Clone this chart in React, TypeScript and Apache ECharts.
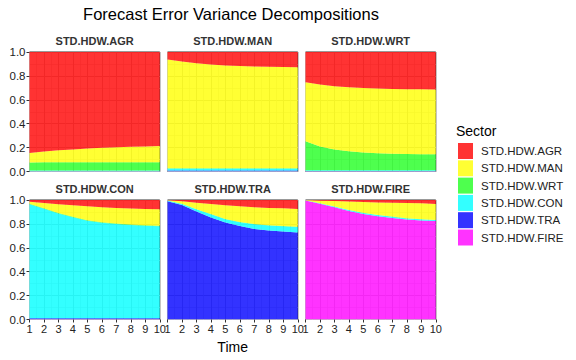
import React, { useEffect, useRef } from "react";
import * as echarts from "echarts";

const time = ["1", "2", "3", "4", "5", "6", "7", "8", "9", "10"];
const sectors = ["STD.HDW.AGR", "STD.HDW.MAN", "STD.HDW.WRT", "STD.HDW.CON", "STD.HDW.TRA", "STD.HDW.FIRE"];
const sectorColors = ["#ff0000", "#ffff00", "#22ff22", "#00ffff", "#0000ff", "#ff00ff"];
const panels = ["STD.HDW.AGR", "STD.HDW.MAN", "STD.HDW.WRT", "STD.HDW.CON", "STD.HDW.TRA", "STD.HDW.FIRE"];
const yTicks = ["0.0", "0.2", "0.4", "0.6", "0.8", "1.0"];

// Shares per panel, per sector (order: AGR, MAN, WRT, CON, TRA, FIRE)
const agrPanel = [
  [0.845, 0.833, 0.823, 0.815, 0.808, 0.802, 0.797, 0.793, 0.790, 0.787],
  [0.080, 0.090, 0.099, 0.107, 0.114, 0.120, 0.125, 0.129, 0.132, 0.135],
  [0.067, 0.069, 0.070, 0.070, 0.070, 0.070, 0.070, 0.070, 0.070, 0.070],
  [0.005, 0.005, 0.005, 0.005, 0.005, 0.005, 0.005, 0.005, 0.005, 0.005],
  [0.003, 0.003, 0.003, 0.003, 0.003, 0.003, 0.003, 0.003, 0.003, 0.003],
  [0.000, 0.000, 0.000, 0.000, 0.000, 0.000, 0.000, 0.000, 0.000, 0.000],
];
const manPanel = [
  [0.062, 0.080, 0.095, 0.105, 0.112, 0.117, 0.121, 0.123, 0.125, 0.127],
  [0.911, 0.893, 0.878, 0.868, 0.861, 0.856, 0.852, 0.850, 0.848, 0.846],
  [0.002, 0.002, 0.002, 0.002, 0.002, 0.002, 0.002, 0.002, 0.002, 0.002],
  [0.017, 0.017, 0.017, 0.017, 0.017, 0.017, 0.017, 0.017, 0.017, 0.017],
  [0.008, 0.008, 0.008, 0.008, 0.008, 0.008, 0.008, 0.008, 0.008, 0.008],
  [0.000, 0.000, 0.000, 0.000, 0.000, 0.000, 0.000, 0.000, 0.000, 0.000],
];
const wrtPanel = [
  [0.254, 0.272, 0.286, 0.296, 0.302, 0.306, 0.309, 0.311, 0.312, 0.313],
  [0.492, 0.518, 0.529, 0.534, 0.538, 0.541, 0.542, 0.542, 0.543, 0.543],
  [0.243, 0.199, 0.174, 0.159, 0.149, 0.142, 0.138, 0.136, 0.134, 0.133],
  [0.006, 0.006, 0.006, 0.006, 0.006, 0.006, 0.006, 0.006, 0.006, 0.006],
  [0.005, 0.005, 0.005, 0.005, 0.005, 0.005, 0.005, 0.005, 0.005, 0.005],
  [0.000, 0.000, 0.000, 0.000, 0.000, 0.000, 0.000, 0.000, 0.000, 0.000],
];
const conPanel = [
  [0.014, 0.025, 0.035, 0.043, 0.053, 0.060, 0.066, 0.071, 0.075, 0.078],
  [0.018, 0.044, 0.074, 0.098, 0.116, 0.126, 0.131, 0.135, 0.136, 0.137],
  [0.004, 0.004, 0.004, 0.004, 0.004, 0.004, 0.004, 0.004, 0.004, 0.004],
  [0.954, 0.917, 0.877, 0.845, 0.817, 0.800, 0.789, 0.780, 0.775, 0.771],
  [0.008, 0.008, 0.008, 0.008, 0.008, 0.008, 0.008, 0.008, 0.008, 0.008],
  [0.002, 0.002, 0.002, 0.002, 0.002, 0.002, 0.002, 0.002, 0.002, 0.002],
];
const traPanel = [
  [0.002, 0.011, 0.022, 0.033, 0.044, 0.053, 0.061, 0.067, 0.069, 0.075],
  [0.003, 0.021, 0.054, 0.085, 0.115, 0.131, 0.140, 0.145, 0.149, 0.148],
  [0.000, 0.001, 0.001, 0.002, 0.002, 0.002, 0.002, 0.002, 0.002, 0.002],
  [0.005, 0.009, 0.019, 0.027, 0.028, 0.031, 0.039, 0.042, 0.044, 0.047],
  [0.990, 0.958, 0.903, 0.853, 0.811, 0.783, 0.758, 0.744, 0.736, 0.728],
  [0.000, 0.000, 0.000, 0.000, 0.000, 0.000, 0.000, 0.000, 0.000, 0.000],
];
const firePanel = [
  [0.000, 0.006, 0.008, 0.012, 0.017, 0.020, 0.022, 0.025, 0.028, 0.033],
  [0.003, 0.021, 0.047, 0.071, 0.090, 0.105, 0.117, 0.128, 0.133, 0.134],
  [0.000, 0.000, 0.000, 0.001, 0.001, 0.001, 0.001, 0.001, 0.001, 0.001],
  [0.002, 0.004, 0.006, 0.008, 0.009, 0.010, 0.010, 0.010, 0.010, 0.007],
  [0.000, 0.000, 0.000, 0.000, 0.000, 0.000, 0.000, 0.000, 0.000, 0.000],
  [0.995, 0.969, 0.939, 0.908, 0.883, 0.864, 0.850, 0.836, 0.828, 0.825],
];
const panelData = [agrPanel, manPanel, wrtPanel, conPanel, traPanel, firePanel];

const colLefts = [29.5, 167.5, 305.5];
const rowTops = [52, 200];
const panelW = 130.3;
const panelH = 119.5;

export default function App() {
  const ref = useRef<HTMLDivElement>(null);
  useEffect(() => {
    if (!ref.current) return;
    const chart = echarts.init(ref.current, null, { renderer: "svg" });
    const font = "Liberation Sans, Arial, sans-serif";
    const grids: any[] = [];
    const xAxes: any[] = [];
    const yAxes: any[] = [];
    const titles: any[] = [
      {
        text: "Forecast Error Variance Decompositions",
        left: 231,
        top: 5,
        padding: 0,
        textAlign: "center",
        textStyle: { fontFamily: font, fontSize: 16.5, fontWeight: "normal", color: "#000" },
      },
    ];
    const series: any[] = [];
    panels.forEach((p, i) => {
      const col = i % 3;
      const row = Math.floor(i / 3);
      const left = colLefts[col];
      const top = rowTops[row];
      grids.push({
        left,
        top,
        width: panelW,
        height: panelH,
        show: true,
        borderColor: "#333",
        borderWidth: 1,
        backgroundColor: "#fff",
      });
      titles.push({
        text: p,
        left: left + panelW / 2,
        top: top - 17,
        padding: 0,
        textAlign: "center",
        textStyle: { fontFamily: font, fontSize: 11, fontWeight: "bold", color: "#333" },
      });
      const showX = row === 1;
      const showY = col === 0;
      // category axis: carries the series, ticks and labels
      xAxes.push({
        type: "category",
        gridIndex: i,
        data: time,
        boundaryGap: false,
        axisLine: { show: false },
        axisTick: { show: showX, length: 3, alignWithLabel: true, lineStyle: { color: "#333" } },
        axisLabel: {
          show: showX,
          fontFamily: font,
          fontSize: 11,
          color: "#222",
          margin: 4,
          interval: 0,
        },
        splitLine: { show: false },
        name: showX && col === 1 ? "Time" : "",
        nameLocation: "middle",
        nameGap: 20,
        nameTextStyle: { fontFamily: font, fontSize: 14, color: "#000" },
      });
      yAxes.push({
        type: "value",
        gridIndex: i,
        min: 0,
        max: 1,
        interval: 0.2,
        axisLine: { show: false },
        axisTick: { show: showY, length: 3, lineStyle: { color: "#333" } },
        axisLabel: {
          show: showY,
          fontFamily: font,
          fontSize: 11.5,
          color: "#222",
          margin: 4,
          formatter: (v: number) => yTicks[Math.round(v * 5)] ?? "",
        },
        splitLine: { show: true, lineStyle: { color: "#c4c4c4", width: 1 } },
        minorTick: { show: false, splitNumber: 2 },
        minorSplitLine: { show: true, lineStyle: { color: "#dadada", width: 0.7 } },
      });
      // stack bottom-to-top: FIRE, TRA, CON, WRT, MAN, AGR
      for (let s = sectors.length - 1; s >= 0; s--) {
        series.push({
          type: "line",
          name: sectors[s],
          xAxisIndex: i,
          yAxisIndex: i,
          stack: "panel" + i,
          data: panelData[i][s],
          symbol: "none",
          lineStyle: { width: 0 },
          areaStyle: { color: sectorColors[s], opacity: 0.8 },
          itemStyle: { color: sectorColors[s], opacity: 0.8 },
          emphasis: { disabled: true },
          silent: true,
          z: 3,
        });
      }
    });
    // extra value x-axes used only for the vertical grid lines (major + minor)
    panels.forEach((p, i) => {
      xAxes.push({
        type: "value",
        gridIndex: i,
        min: 1,
        max: 10,
        interval: 1,
        axisLine: { show: false },
        axisTick: { show: false },
        axisLabel: { show: false },
        splitLine: { show: true, lineStyle: { color: "#c4c4c4", width: 1 } },
        minorTick: { show: false, splitNumber: 2 },
        minorSplitLine: { show: true, lineStyle: { color: "#dadada", width: 0.7 } },
        position: "top",
      });
    });
    titles.push({
      text: "Sector",
      left: 456,
      top: 124,
      padding: 0,
      textStyle: { fontFamily: font, fontSize: 14, fontWeight: "normal", color: "#000" },
    });
    chart.setOption({
      animation: false,
      backgroundColor: "#fff",
      title: titles,
      grid: grids,
      xAxis: xAxes,
      yAxis: yAxes,
      series,
      legend: {
        orient: "vertical",
        left: 458,
        top: 143,
        data: sectors,
        icon: "rect",
        itemWidth: 15,
        itemHeight: 16,
        itemGap: 1.3,
        padding: 0,
        selectedMode: false,
        textStyle: { fontFamily: font, fontSize: 11.5, color: "#222", padding: [0, 0, 0, 3] },
      },
    });
    return () => chart.dispose();
  }, []);
  return <div ref={ref} style={{ width: 576, height: 360, position: "absolute", left: 0, top: 0 }} />;
}
